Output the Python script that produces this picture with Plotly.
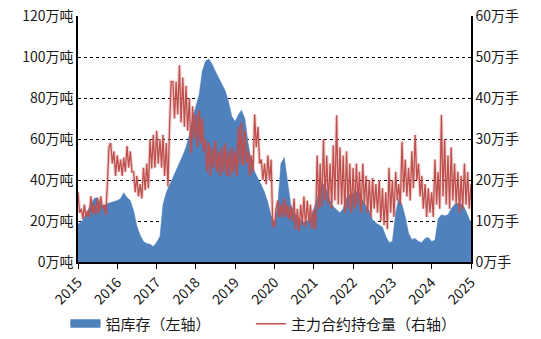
import plotly.graph_objects as go

# ---- aluminium inventory (万吨), monthly, Jan 2015 .. Jan 2025 ----
inv_2015 = [18.5, 19.5, 22, 25, 28.5, 31, 31.5, 28, 27, 28.5, 29, 29.5]
inv_2016 = [30, 31, 33.8, 31.5, 30, 25, 17.5, 13, 10, 9, 8.6, 7.5]
inv_2017 = [9.5, 12.5, 28, 34, 37.5, 40.5, 44, 48, 52, 56, 62, 70]
inv_2018 = [76, 82, 93, 98, 99, 96.5, 93, 90, 87, 83.5, 78, 71]
inv_2019 = [68.5, 72, 74, 70, 58, 49, 44, 41, 37.5, 34, 29, 22.5]
inv_2020 = [19.5, 28, 48, 51, 38.5, 28, 24, 22, 20.5, 19.5, 20, 22]
inv_2021 = [26, 31, 37, 38, 35, 30, 27, 25.5, 24, 26, 31.5, 33]
inv_2022 = [33.5, 34.5, 34, 30, 27.5, 25, 20.5, 19, 18, 17, 12.5, 9.5]
inv_2023 = [10, 24, 31, 28, 22, 14, 11, 11.5, 10, 9.5, 11.5, 12]
inv_2024 = [10, 10.7, 21, 23, 22.5, 23, 26, 28, 28.6, 28.3, 26.5, 22.5]
inv_2025 = [19]

# ---- main contract open interest (万手), twice a month ----
oi_2015 = [17, 12, 13, 10.5, 14, 11, 12.5, 11, 16, 12, 14, 11.5,
           15.5, 12, 16, 13, 14, 11.5, 19, 28, 29, 24, 27, 21]
oi_2016 = [26, 22, 25, 21, 25.5, 22, 28.3, 23, 27, 22, 22, 17,
           21, 16, 19, 15.5, 23, 17.5, 24, 18, 30, 22.8, 31, 23]
oi_2017 = [32, 24, 30, 23, 31, 21, 29, 18.4, 33, 44, 44, 35,
           44, 36, 48, 34, 45, 33, 43, 32, 40, 26.5, 38, 30]
oi_2018 = [36, 28, 37, 29, 35, 27, 30, 22, 29, 21, 28, 23,
           29.5, 22, 27, 21, 28, 22, 29, 21, 27, 20.8, 28, 22]
oi_2019 = [27, 21, 33, 24, 34, 23.5, 32, 24, 27, 21, 26, 22,
           36, 28, 33, 24, 25, 20, 24, 19, 26, 20, 25, 9]
oi_2020 = [8.5, 13, 15, 11, 14, 11, 15.5, 11, 14, 10.5, 13.5, 10,
           15.5, 8, 13, 7.5, 14, 9, 16, 8.5, 15, 9.5, 14, 8]
oi_2021 = [12.7, 8, 26, 13, 24, 13.5, 30, 15, 26, 14, 24, 13,
           28.5, 15, 35.8, 14, 28, 14, 26, 12, 27, 13, 24, 12]
oi_2022 = [23, 13, 24, 14, 22, 12, 24, 14, 21, 12, 20, 11,
           20.5, 13, 19, 12, 20, 10, 18, 9, 17, 8, 23, 12]
oi_2023 = [20, 11, 22, 15, 19, 14, 29.3, 17, 25, 16, 23, 15,
           27, 18, 31, 20, 24, 16, 21, 13, 19, 11, 18, 12]
oi_2024 = [17, 11, 25, 14, 22, 13, 35.9, 16, 30, 14, 26, 13,
           28, 15, 24, 14, 22, 12, 21, 13, 24, 14, 22, 13]
oi_2025 = [19, 12]

inventory = (inv_2015 + inv_2016 + inv_2017 + inv_2018 + inv_2019 + inv_2020
             + inv_2021 + inv_2022 + inv_2023 + inv_2024 + inv_2025)
open_interest = (oi_2015 + oi_2016 + oi_2017 + oi_2018 + oi_2019 + oi_2020
                 + oi_2021 + oi_2022 + oi_2023 + oi_2024 + oi_2025)

inv_dates = [f"{2015 + i // 12}-{i % 12 + 1:02d}-01" for i in range(len(inventory))]
oi_dates = [f"{2015 + (i // 2) // 12}-{(i // 2) % 12 + 1:02d}-{1 if i % 2 == 0 else 16:02d}"
            for i in range(len(open_interest))]

years = list(range(2015, 2026))
year_ticks = [f"{y}-01-01" for y in years]
year_labels = [str(y) for y in years]

left_ticks = [0, 20, 40, 60, 80, 100, 120]
right_ticks = [0, 10, 20, 30, 40, 50, 60]

FONT = "Noto Sans CJK SC"
BLUE = "#4F81BD"
RED = "#C0504D"
TEXT = "#1a1a1a"

fig = go.Figure()
fig.add_trace(go.Scatter(
    x=inv_dates, y=inventory, name="铝库存（左轴）", showlegend=False,
    mode="lines", line=dict(color=BLUE, width=0.5),
    fill="tozeroy", fillcolor=BLUE, yaxis="y",
))
# legend key for the inventory area (a solid block)
fig.add_trace(go.Scatter(
    x=[None], y=[None], name="铝库存（左轴）", legend="legend",
    mode="lines", line=dict(color=BLUE, width=5),
    fill="tozeroy", fillcolor=BLUE, yaxis="y",
))
# soft halo under the open-interest line
fig.add_trace(go.Scatter(
    x=oi_dates, y=open_interest, mode="lines", showlegend=False,
    line=dict(color="rgba(192,80,77,0.25)", width=3.5), yaxis="y2",
    hoverinfo="skip",
))
fig.add_trace(go.Scatter(
    x=oi_dates, y=open_interest, name="主力合约持仓量（右轴）", legend="legend2",
    mode="lines", line=dict(color=RED, width=1.3), yaxis="y2",
))

legend_common = dict(
    orientation="h", yanchor="top", xanchor="left", y=-0.185,
    font=dict(family=FONT, size=15, color=TEXT),
    bgcolor="rgba(0,0,0,0)", itemwidth=30,
)

fig.update_layout(
    width=541, height=339,
    margin=dict(l=78, r=70, t=16, b=77, autoexpand=False),
    paper_bgcolor="white", plot_bgcolor="white",
    font=dict(family=FONT, size=14, color=TEXT),
    showlegend=True,
    legend=dict(x=-0.032, **legend_common),
    legend2=dict(x=0.44, **legend_common),
    xaxis=dict(
        type="date", range=["2015-01-01", "2025-01-01"],
        tickmode="array", tickvals=year_ticks, ticktext=year_labels,
        tickangle=-45, ticks="outside", ticklen=5, tickcolor="black",
        showline=True, linecolor="black", linewidth=1.5,
        showgrid=False, zeroline=False, automargin=False,
        tickfont=dict(family=FONT, size=14, color=TEXT),
    ),
    yaxis=dict(
        range=[0, 120], tickmode="array", tickvals=left_ticks,
        ticktext=[f"{v}万吨" for v in left_ticks],
        showline=True, linecolor="black", linewidth=1.5,
        showgrid=True, gridcolor="black", gridwidth=1, griddash="dot",
        zeroline=False, ticks="", automargin=False,
        tickfont=dict(family=FONT, size=14, color=TEXT),
    ),
    yaxis2=dict(
        range=[0, 60], tickmode="array", tickvals=right_ticks,
        ticktext=[f"{v}万手" for v in right_ticks],
        overlaying="y", side="right",
        showline=True, linecolor="black", linewidth=1.5,
        showgrid=False, zeroline=False, ticks="", automargin=False,
        tickfont=dict(family=FONT, size=14, color=TEXT),
    ),
)

fig.write_html("out.html")
